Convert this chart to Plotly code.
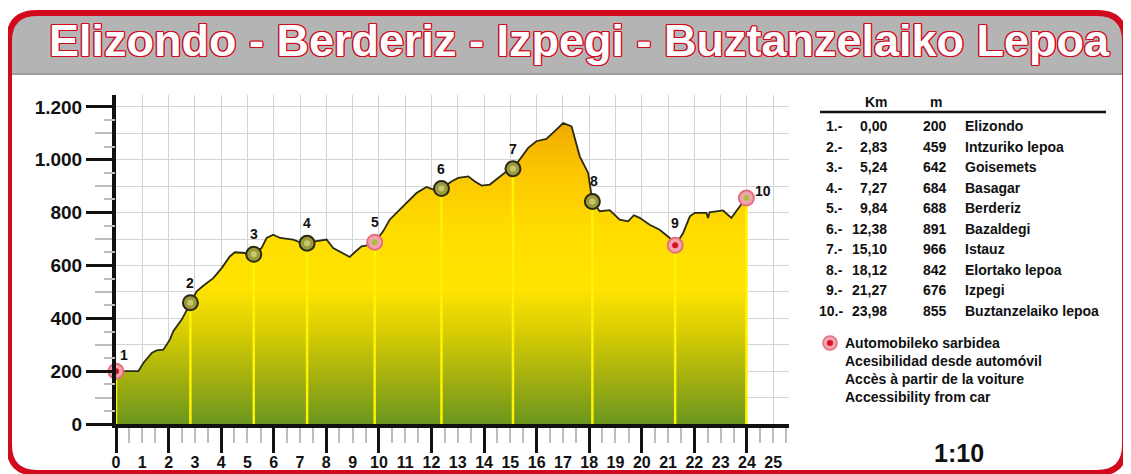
import plotly.graph_objects as go

# ---------------- data ----------------
profile_km = [0.00, 0.85, 1.04, 1.36, 1.55, 1.80, 2.05, 2.18, 2.50, 2.70, 2.83, 3.07, 3.32, 3.70,
              4.02, 4.33, 4.52, 4.80, 5.24, 5.54, 5.73, 5.98, 6.24, 6.74, 7.06, 7.27, 7.57, 8.01,
              8.26, 8.64, 8.89, 9.08, 9.34, 9.66, 9.84, 10.16, 10.41, 10.67, 11.05, 11.43, 11.81,
              12.07, 12.38, 12.76, 13.02, 13.40, 13.65, 13.91, 14.22, 14.48, 14.86, 15.10, 15.36,
              15.68, 15.99, 16.37, 16.69, 17.01, 17.33, 17.64, 17.96, 18.12, 18.40, 18.78, 19.16,
              19.48, 19.70, 19.92, 20.30, 20.68, 21.06, 21.27, 21.57, 21.83, 22.02, 22.46, 22.52,
              22.58, 23.09, 23.41, 23.73, 23.98]
profile_m = [200, 200, 231, 269, 279, 281, 319, 351, 395, 432, 459, 502, 523, 552,
             590, 634, 650, 648, 642, 666, 704, 716, 704, 698, 685, 684, 691, 698,
             666, 647, 632, 650, 672, 678, 688, 729, 773, 799, 837, 874, 897,
             887, 891, 918, 931, 937, 918, 902, 906, 925, 956, 966, 1000,
             1045, 1070, 1079, 1108, 1139, 1126, 1013, 950, 842, 805, 809, 773,
             767, 790, 780, 754, 735, 704, 676, 722, 786, 799, 799, 780,
             801, 808, 780, 824, 855]

wp_num = [1, 2, 3, 4, 5, 6, 7, 8, 9, 10]
wp_km = [0.00, 2.83, 5.24, 7.27, 9.84, 12.38, 15.10, 18.12, 21.27, 23.98]
wp_m = [200, 459, 642, 684, 688, 891, 966, 842, 676, 855]
wp_name = ["Elizondo", "Intzuriko lepoa", "Goisemets", "Basagar", "Berderiz",
           "Bazaldegi", "Istauz", "Elortako lepoa", "Izpegi", "Buztanzelaiko lepoa"]
wp_car = [True, False, False, False, True, False, False, False, True, True]

title_text = "Elizondo - Berderiz - Izpegi - Buztanzelaiko Lepoa"
legend_lines = ["Automobileko sarbidea", "Acesibilidad desde automóvil",
                "Accès à partir de la voiture", "Accessibility from car"]
scale_text = "1:10"
x_ticks = list(range(0, 26))
y_ticks = [0, 200, 400, 600, 800, 1000, 1200]

# ---------------- layout helpers (page pixels -> paper) ----------------
OFF = 8                      # page body margin
W, H = 1131 - OFF, 474 - OFF
L, T = 116 - OFF, 95 - OFF
R = W - (789 - OFF)
B = H - (424 - OFF)
PW, PH = W - L - R, H - T - B


def fx(p):
    return (p - OFF - L) / PW


def fy(p):
    return (H - B - (p - OFF)) / PH


SANS = "Liberation Sans, Arial, sans-serif"
RED = "#d20a1e"

fig = go.Figure()

vx, vy = [], []
for k, m in zip(wp_km, wp_m):
    vx += [k, k, None]
    vy += [0, m, None]

fig.add_trace(go.Scatter(
    x=profile_km, y=profile_m, mode="lines", fill="tozeroy",
    line=dict(color="#2b2a12", width=1.8),
    fillgradient=dict(type="vertical", start=0, stop=1140,
                      colorscale=[[0.0, "#6a961e"], [0.12, "#98aa12"], [0.30, "#d6cc04"],
                                  [0.45, "#ffe400"], [0.65, "#ffdc00"], [0.85, "#fbc400"],
                                  [1.0, "#f0aa00"]]),
    hoverinfo="skip"))

fig.add_trace(go.Scatter(x=vx, y=vy, mode="lines",
                         line=dict(color="#fff200", width=2.5), hoverinfo="skip"))

ring_fill = ["#f4a3ad" if c else "#9c9a3a" for c in wp_car]
ring_line = ["#e0707e" if c else "#2a2a14" for c in wp_car]
center_col = ["#d5102a", "#c8c870", "#c8c870", "#c8c870", "#a8c040",
              "#c8c870", "#c8c870", "#c8c870", "#d5102a", "#a8c040"]
fig.add_trace(go.Scatter(x=wp_km, y=wp_m, mode="markers", cliponaxis=False,
                         marker=dict(size=15, color=ring_fill,
                                     line=dict(color=ring_line, width=2)),
                         hoverinfo="skip"))
fig.add_trace(go.Scatter(x=wp_km, y=wp_m, mode="markers", cliponaxis=False,
                         marker=dict(size=6, color=center_col, line=dict(width=0)),
                         hoverinfo="skip"))

fig.add_trace(go.Scatter(x=[0], y=[0], xaxis="x2", yaxis="y", mode="markers",
                         marker=dict(opacity=0), hoverinfo="skip"))
fig.add_trace(go.Scatter(x=[0], y=[0], xaxis="x", yaxis="y2", mode="markers",
                         marker=dict(opacity=0), hoverinfo="skip"))

lab_off = [(8, -16), (0, -20), (0, -20), (0, -20), (0, -20), (0, -20), (0, -20),
           (2, -21), (0, -22), (17, -7)]
for n, k, m, (ox, oy) in zip(wp_num, wp_km, wp_m, lab_off):
    fig.add_annotation(x=k, y=m, xref="x", yref="y", text=str(n), showarrow=False,
                       xshift=ox, yshift=-oy,
                       font=dict(family=SANS, size=14, color="#111111", weight="bold"))

shapes = []
x0, x1, y0, y1, r = 12, 1122, 16, 74, 24
path = (f"M {fx(x0)},{fy(y1)} L {fx(x0)},{fy(y0 + r)} Q {fx(x0)},{fy(y0)} {fx(x0 + r)},{fy(y0)} "
        f"L {fx(x1 - r)},{fy(y0)} Q {fx(x1)},{fy(y0)} {fx(x1)},{fy(y0 + r)} L {fx(x1)},{fy(y1)} Z")
shapes.append(dict(type="path", xref="paper", yref="paper", path=path,
                   fillcolor="#b4b4b4", line=dict(width=0), layer="below"))
shapes.append(dict(type="line", xref="paper", yref="paper", x0=fx(x0), x1=fx(x1),
                   y0=fy(74), y1=fy(74), line=dict(color="#9c9c9c", width=2)))
x0, x1, y0, y1, r = 9, 1125, 13, 473, 28
path = (f"M {fx(x0)},{fy(y0 + r)} Q {fx(x0)},{fy(y0)} {fx(x0 + r)},{fy(y0)} "
        f"L {fx(x1 - r)},{fy(y0)} Q {fx(x1)},{fy(y0)} {fx(x1)},{fy(y0 + r)} "
        f"L {fx(x1)},{fy(y1 - r)} Q {fx(x1)},{fy(y1)} {fx(x1 - r)},{fy(y1)} "
        f"L {fx(x0 + r)},{fy(y1)} Q {fx(x0)},{fy(y1)} {fx(x0)},{fy(y1 - r)} Z")
shapes.append(dict(type="path", xref="paper", yref="paper", path=path,
                   line=dict(color=RED, width=6)))
shapes.append(dict(type="line", xref="paper", yref="paper", x0=fx(820), x1=fx(1106),
                   y0=fy(112), y1=fy(112), line=dict(color="#111111", width=2.5)))
cx, cy = 830, 343
for rad, fc, lc, lw in [(7, "#f4a3ad", "#e0707e", 1.5), (3, "#d5102a", "#d5102a", 0)]:
    shapes.append(dict(type="circle", xref="paper", yref="paper",
                       x0=fx(cx - rad), x1=fx(cx + rad), y0=fy(cy + rad), y1=fy(cy - rad),
                       fillcolor=fc, line=dict(color=lc, width=lw)))

sh = ", ".join(f"{a}px {b}px 0 {RED}" for a, b in
               [(-1, -1), (1, -1), (-1, 1), (1, 1), (0, 1.3), (0, -1.3), (1.3, 0), (-1.3, 0)])
fig.add_annotation(x=fx(579), y=fy(41), xref="paper", yref="paper", text=title_text,
                   showarrow=False, xanchor="center", yanchor="middle",
                   font=dict(family=SANS, size=45, color="white", weight="bold", shadow=sh))

tfont = dict(family=SANS, size=14, color="#111111", weight="bold")
fig.add_annotation(x=fx(876), y=fy(102), xref="paper", yref="paper", text="Km",
                   showarrow=False, xanchor="center", yanchor="middle", font=tfont)
fig.add_annotation(x=fx(936), y=fy(102), xref="paper", yref="paper", text="m",
                   showarrow=False, xanchor="center", yanchor="middle", font=tfont)
for i, (n, k, m, name) in enumerate(zip(wp_num, wp_km, wp_m, wp_name)):
    yy = fy(126 + i * 20.5)
    for xp, txt, anc in [(845, f"{n}.-", "right"), (889, f"{k:.2f}".replace(".", ","), "right"),
                         (949, str(m), "right"), (963, name, "left")]:
        fig.add_annotation(x=fx(xp), y=yy, xref="paper", yref="paper", text=txt,
                           showarrow=False, xanchor=anc, yanchor="middle", font=tfont)

for i, line in enumerate(legend_lines):
    fig.add_annotation(x=fx(843), y=fy(343 + i * 18), xref="paper", yref="paper", text=line,
                       showarrow=False, xanchor="left", yanchor="middle", font=tfont)
fig.add_annotation(x=fx(959), y=fy(453), xref="paper", yref="paper", text=scale_text,
                   showarrow=False, xanchor="center", yanchor="middle",
                   font=dict(family=SANS, size=25, color="#111111", weight="bold"))

fig.update_layout(
    width=W, height=H, margin=dict(l=L, r=R, t=T, b=B, autoexpand=False),
    paper_bgcolor="white", plot_bgcolor="white", showlegend=False,
    separators=",.", shapes=shapes,
    xaxis=dict(range=[0, 25.6], tickmode="array", tickvals=x_ticks,
               ticktext=[str(v) for v in x_ticks], automargin=False,
               showgrid=True, gridcolor="#d4d4d4", gridwidth=1,
               showline=True, linecolor="#111111", linewidth=4,
               ticks="outside", ticklen=15, tickwidth=1.5, tickcolor="#bdbdbd",
               ticklabelstandoff=6,
               minor=dict(dtick=0.5, tick0=0, ticks="outside", ticklen=15,
                          tickwidth=1.5, tickcolor="#bdbdbd", showgrid=False),
               tickfont=dict(family=SANS, size=16, color="#111111", weight="bold"),
               zeroline=False, fixedrange=True),
    xaxis2=dict(range=[0, 25.6], overlaying="x", anchor="y", side="bottom",
                tickmode="linear", tick0=0, dtick=2, showticklabels=False,
                ticks="outside", ticklen=28, tickwidth=2.5, tickcolor="#111111",
                showgrid=False, showline=False, zeroline=False, automargin=False),
    yaxis=dict(range=[0, 1245], tickmode="array", tickvals=y_ticks,
               separatethousands=True, tickformat=",d", automargin=False,
               showgrid=True, gridcolor="#d4d4d4", gridwidth=1,
               showline=True, linecolor="#111111", linewidth=4,
               ticks="outside", ticklen=26, tickwidth=2.5, tickcolor="#111111",
               minor=dict(dtick=100, tick0=0, ticks="outside", ticklen=17,
                          tickwidth=1.5, tickcolor="#bdbdbd", showgrid=True,
                          gridcolor="#d4d4d4", gridwidth=1),
               tickfont=dict(family=SANS, size=19, color="#111111", weight="bold"),
               zeroline=False, fixedrange=True),
    yaxis2=dict(range=[0, 1245], overlaying="y", anchor="x", side="left",
                tickmode="linear", tick0=50, dtick=100, showticklabels=False,
                ticks="outside", ticklen=11, tickwidth=1.5, tickcolor="#bdbdbd",
                showgrid=False, showline=False, zeroline=False, automargin=False),
)

fig.write_html("out.html")
